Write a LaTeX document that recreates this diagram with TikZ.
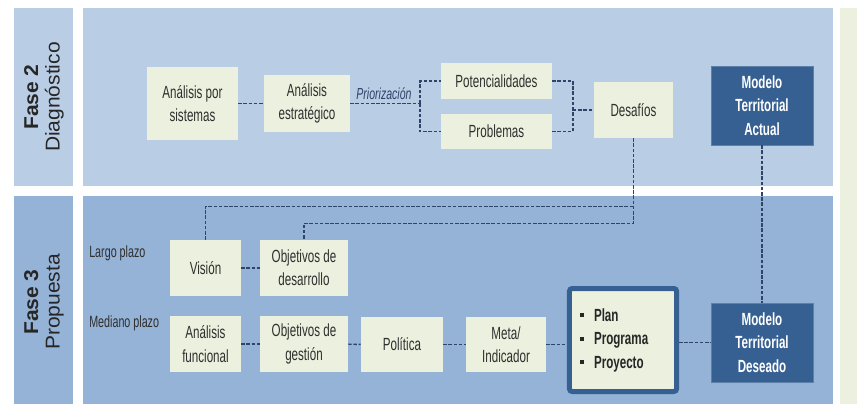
\documentclass[tikz,border=0pt]{standalone}
\usepackage{fontspec}
\setmainfont{Liberation Sans}
\newfontfamily\narrowfont[FakeStretch=0.66]{Liberation Sans}
\newfontfamily\widefont[FakeStretch=1.05]{Liberation Sans}
\usetikzlibrary{positioning,calc}
\definecolor{panelup}{HTML}{B9CDE5}
\definecolor{paneldown}{HTML}{95B3D7}
\definecolor{boxgreen}{HTML}{EBF1DE}
\definecolor{darkblue}{HTML}{366092}
\definecolor{linkblue}{HTML}{2E4468}
\definecolor{textgray}{HTML}{2F2F2F}
\newcommand{\bul}{\rule[3pt]{3pt}{3pt}\hspace{7.5pt}}

\tikzset{
  box/.style={fill=boxgreen, text=textgray, align=center, inner sep=0pt,
    font=\narrowfont\fontsize{13.2}{17.5}\selectfont},
  model/.style={fill=darkblue, draw=darkblue!80!white, text=white, align=center,
    inner sep=0pt, minimum width=76.5pt, minimum height=59.25pt,
    font=\narrowfont\bfseries\fontsize{13.2}{17.5}\selectfont},
  link/.style={draw=linkblue, line width=1.1pt, dash pattern=on 2.6pt off 1.3pt},
  phase/.style={rotate=90, align=center, text=black!85,
    font=\widefont\fontsize{15}{16}\selectfont},
  term/.style={anchor=west, text=textgray, inner sep=0pt,
    font=\narrowfont\fontsize{12.2}{13}\selectfont},
}

\begin{document}
\begin{tikzpicture}[x=0.75pt, y=-0.75pt]
  \useasboundingbox (0,0) rectangle (857,404);
  \fill[white] (0,0) rectangle (857,404);

  % --- panels ---
  \fill[panelup] (14,8) rectangle (73,186);
  \fill[panelup] (83,8) rectangle (833,186);
  \fill[paneldown] (14,196) rectangle (73,404);
  \fill[paneldown] (83,196) rectangle (833,404);
  \fill[boxgreen] (840,8) rectangle (857,404);

  \node[phase] (fase2) at (44,97) {\textbf{Fase 2}\\Diagnóstico};
  \node[phase] (fase3) at (44,302) {\textbf{Fase 3}\\Propuesta};

  % --- Fase 2: diagnostico ---
  \node[box, minimum width=68.25pt, minimum height=54.75pt] (sist) at (192.5,103.5) {Análisis por\\sistemas};
  \node[box, minimum width=64.5pt, minimum height=42.75pt] (estr) at (307,103.5) {Análisis\\estratégico};
  \node[box, minimum width=83.25pt, minimum height=27pt] (pot) at (496.5,81) {Potencialidades};
  \node[box, minimum width=83.25pt, minimum height=26.25pt] (prob) at (496.5,131.5) {Problemas};
  \node[box, minimum width=59.25pt, minimum height=42pt] (des) at (633.5,110) {Desafíos};
  \node[model] (actual) at (762,105.5) {Modelo\\Territorial\\Actual};

  \coordinate (pj) at (420,103.5);
  \coordinate (rj) at (573,110);
  \draw[link] (sist) -- (estr);
  \draw[link] (estr.east) -- (pj);
  \draw[link] (pj) |- (pot.west);
  \draw[link] (pj) |- (prob.west);
  \draw[link] (pot.east) -| (rj);
  \draw[link] (prob.east) -| (rj);
  \draw[link] (rj) -- (des.west);
  \node[text=linkblue, inner sep=0pt, font=\narrowfont\itshape\fontsize{12}{12}\selectfont]
    (prio) at (384,94) {Priorización};

  % --- Fase 3: propuesta ---
  \node[term] (largo) at (89,253) {Largo plazo};
  \node[term] (mediano) at (89,323) {Mediano plazo};

  \node[box, minimum width=53.25pt, minimum height=42pt] (vis) at (205.5,268) {Visión};
  \node[box, minimum width=66pt, minimum height=42pt] (odes) at (304,268) {Objetivos de\\desarrollo};

  \node[box, minimum width=53.25pt, minimum height=42pt] (func) at (205.5,344) {Análisis\\funcional};
  \node[box, minimum width=66pt, minimum height=42pt] (oges) at (304,344) {Objetivos de\\gestión};
  \node[box, minimum width=61.5pt, minimum height=41.25pt] (pol) at (402,344.5) {Política};
  \node[box, minimum width=60pt, minimum height=41.25pt] (meta) at (506,344.5) {Meta/\\Indicador};
  \node[draw=darkblue, line width=3.75pt, rounded corners=2pt, fill=boxgreen,
    text=black!85, inner xsep=7.9pt, inner ysep=0pt, text width=64.5pt,
    minimum height=77.25pt, align=left,
    font=\narrowfont\bfseries\fontsize{13.2}{17.6}\selectfont]
    (plan) at (623,340) {\bul Plan\\\bul Programa\\\bul Proyecto};
  \node[model] (deseado) at (762,342.5) {Modelo\\Territorial\\Deseado};

  \draw[link] (vis) -- (odes);
  \draw[link] (func) -- (oges);
  \draw[link] (oges) -- (pol);
  \draw[link] (pol) -- (meta);
  \draw[link] (meta.east) -- (meta.east -| plan.west);
  \draw[link] (plan.east |- deseado.west) -- (deseado.west);
  \draw[link] (actual) -- (deseado);

  % from Desafios down to the long-term row
  \coordinate (dj) at ($(des.south)+(0,68)$);
  \draw[link] (des.south) -- ++(0,85) -| (odes.north);
  \draw[link] (vis.north) |- (dj);
\end{tikzpicture}
\end{document}
